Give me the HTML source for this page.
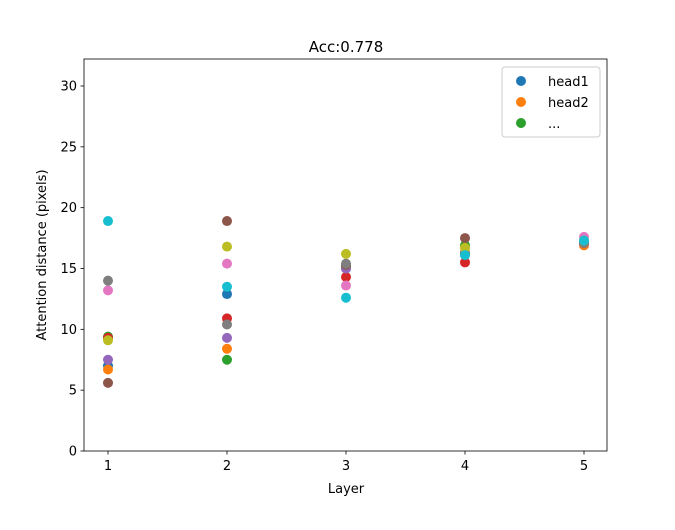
<!DOCTYPE html>
<html><head><meta charset="utf-8"><style>body{margin:0;background:#fff}svg{font-family:"DejaVu Sans","Liberation Sans",sans-serif}</style></head>
<body>
<svg id="chart" width="675" height="507"></svg>
<script>
const layers=[1,2,3,4,5];
const colors=["#1f77b4","#ff7f0e","#2ca02c","#d62728","#9467bd","#8c564b","#e377c2","#7f7f7f","#bcbd22","#17becf"];
const head1=[7.0,12.9,15.0,16.3,17.1];
const head2=[6.7,8.4,15.1,16.3,16.9];
const head3=[9.4,7.5,15.2,16.9,17.2];
const head4=[9.3,10.9,14.3,15.5,17.1];
const head5=[7.5,9.3,15.0,16.3,17.1];
const head6=[5.6,18.9,15.3,17.5,17.1];
const head7=[13.2,15.4,13.6,16.3,17.6];
const head8=[14.0,10.4,15.4,16.3,17.1];
const head9=[9.1,16.8,16.2,16.7,17.3];
const head10=[18.9,13.5,12.6,16.1,17.3];
const heads=[head1,head2,head3,head4,head5,head6,head7,head8,head9,head10];
const yTicks=[0,5,10,15,20,25,30];
const NS="http://www.w3.org/2000/svg";
const svg=document.getElementById('chart');
const L=84,R=607,T=59,B=451;
const xs=v=>108+(v-1)*119;
const ys=v=>B-v*(B-86)/30;
function mk(t,a,p){const e=document.createElementNS(NS,t);for(const k in a)e.setAttribute(k,a[k]);(p||svg).appendChild(e);return e;}
yTicks.forEach(v=>{const y=ys(v);
 const g=mk('g',{});
 mk('line',{x1:L-3.5,x2:L,y1:y,y2:y,stroke:'#000','stroke-width':0.8},g);
 const t=mk('text',{x:L-7,y:y+4.5,'text-anchor':'end','font-size':13},g);t.textContent=v;});
layers.forEach(v=>{const x=xs(v);
 const g=mk('g',{});
 mk('line',{x1:x,x2:x,y1:B,y2:B+3.5,stroke:'#000','stroke-width':0.8},g);
 const t=mk('text',{x:x,y:B+19,'text-anchor':'middle','font-size':13},g);t.textContent=v;});
heads.forEach((h,i)=>{layers.forEach((l,j)=>{
 const c=mk('circle',{cx:xs(l),cy:ys(h[j]),r:5,fill:colors[i]});
 
 });});
const f=mk('rect',{x:L,y:T,width:R-L,height:B-T,fill:'none',stroke:'#000','stroke-width':0.8});


</script>
<svg width="0" height="0"></svg>
<div style="position:absolute;left:0;top:0;width:675px;height:507px;pointer-events:none">
<svg width="675" height="507">
<text x="346" y="52" text-anchor="middle" font-size="15">Acc:0.778</text>
<text x="346" y="493" text-anchor="middle" font-size="13">Layer</text>
<text transform="translate(46,255) rotate(-90)" text-anchor="middle" font-size="13">Attention distance (pixels)</text>
<g>
<rect x="502" y="67" width="98" height="70" rx="3" fill="#fff" stroke="#ccc" stroke-width="1"/>
<circle cx="521" cy="81" r="5" fill="#1f77b4"/><text x="548" y="86" font-size="13">head1</text>
<circle cx="521" cy="102" r="5" fill="#ff7f0e"/><text x="548" y="107" font-size="13">head2</text>
<circle cx="521" cy="123" r="5" fill="#2ca02c"/><text x="548" y="128" font-size="13">...</text>
</g>
</svg></div>
</body></html>
